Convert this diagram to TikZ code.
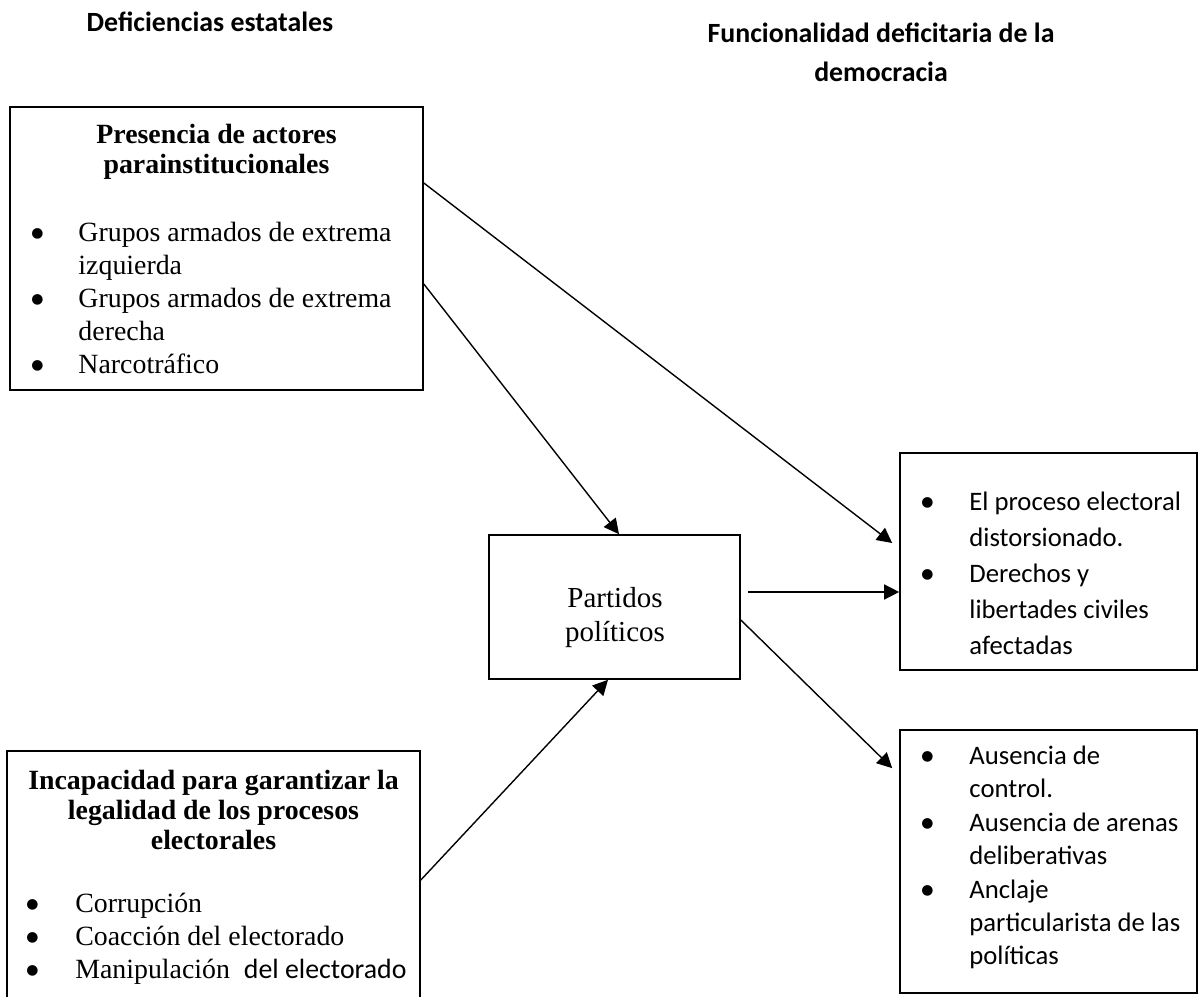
\documentclass[tikz,border=0pt]{standalone}
\usepackage{fontspec}
\setmainfont{Liberation Serif}
\newfontfamily\calibri{Carlito}
\newfontfamily\dejavu{DejaVu Sans}
\usetikzlibrary{arrows.meta,fit}
\newcommand{\vineta}{\makebox[6pt][c]{\raisebox{1.6pt}{\dejavu\fontsize{6}{7}\selectfont ●}}}
\tikzset{
  caja/.style={draw, line width=0.7pt, inner sep=0pt},
  flecha/.style={line width=0.6pt, -{Triangle[length=6.5pt,width=6.5pt]}},
  encabezado/.style={font=\calibri\bfseries\fontsize{12}{16.8}\selectfont, align=center},
  titulo/.style={font=\bfseries\fontsize{12}{13}\selectfont, align=center},
  lista/.style={font=\fontsize{12}{14.2}\selectfont, anchor=west, inner sep=0pt},
  listacal/.style={font=\calibri\fontsize{11.5}{14.4}\selectfont, anchor=west, inner sep=0pt},
}
\begin{document}
\begin{tikzpicture}[x=0.431pt,y=-0.431pt]
\useasboundingbox (0,0) rectangle (1200,997);
\node[encabezado] (estatales) at (210,22) {Deficiencias estatales};
\node[encabezado] (funcionalidad) at (881,52) {Funcionalidad deficitaria de la\\democracia};

\node[caja, fit={(10,107) (423,390)}] (presencia) {};
\node[titulo] (presencia-t) at (216.5,152) {Presencia de actores\\parainstitucionales};
\node[lista] (presencia-l) at (30,301) {\begin{tabular}{@{}l@{\hspace{14.7pt}}l@{}}
\vineta & Grupos armados de extrema\\
 & izquierda\\
\vineta & Grupos armados de extrema\\
 & derecha\\
\vineta & Narcotráfico
\end{tabular}};

\node[caja, fit={(7,751) (420,1010)}] (incapacidad) {};
\node[titulo] (incapacidad-t) at (213.5,810) {Incapacidad para garantizar la\\legalidad de los procesos\\electorales};
\node[lista] (incapacidad-l) at (25,938.5) {\begin{tabular}{@{}l@{\hspace{15.5pt}}l@{}}
\vineta & Corrupción\\
\vineta & Coacción del electorado\\
\vineta & Manipulación\ \ {\calibri del electorado}
\end{tabular}};

\node[caja, fit={(489,535) (740,679)}] (partidos) {};
\node[font=\fontsize{12.5}{15}\selectfont, align=center] (partidos-t) at (615,617.5) {Partidos\\políticos};

\node[caja, fit={(900,453) (1197,670)}] (derecha1) {};
\node[listacal, font=\calibri\fontsize{11.5}{15.5}\selectfont] (derecha1-l) at (920,575) {\begin{tabular}{@{}l@{\hspace{15.1pt}}l@{}}
\vineta & El proceso electoral\\
 & distorsionado.\\
\vineta & Derechos y\\
 & libertades civiles\\
 & afectadas
\end{tabular}};

\node[caja, fit={(900,730) (1197,993)}] (derecha2) {};
\node[listacal] (derecha2-l) at (920,858) {\begin{tabular}{@{}l@{\hspace{15.1pt}}l@{}}
\vineta & Ausencia de\\
 & control.\\
\vineta & Ausencia de arenas\\
 & deliberativas\\
\vineta & Anclaje\\
 & particularista de las\\
 & políticas
\end{tabular}};

\draw[flecha, shorten >=3.8pt] (presencia.east |- 0,183) -- (derecha1.west |- 0,548.4);
\draw[flecha] (presencia.east |- 0,284) -- (partidos.north -| 619,0);
\draw[flecha] (incapacidad.east |- 0,880) -- (partidos.south -| 608,0);
\draw[flecha, shorten <=3pt] (partidos.east |- 0,592) -- (derecha1.west |- 0,592);
\draw[flecha, shorten >=4.2pt] (partidos.east |- 0,620) -- (derecha2.west |- 0,775);
\end{tikzpicture}
\end{document}
